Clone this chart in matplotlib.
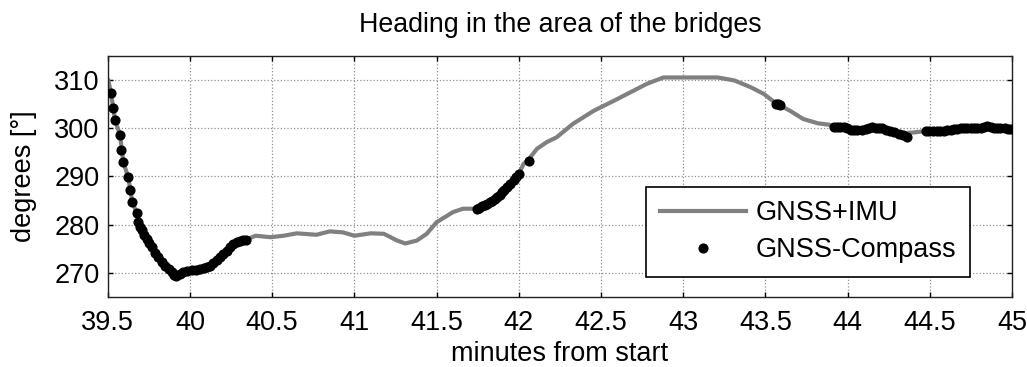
import matplotlib
matplotlib.use("Agg")
import matplotlib.pyplot as plt

plt.rcParams['font.family'] = ['Liberation Sans', 'DejaVu Sans']

# GNSS+IMU heading (minutes, degrees)
imu_t = [39.504, 39.52, 39.545, 39.575, 39.595, 39.625, 39.65, 39.677, 39.707,
         39.737, 39.768, 39.808, 39.849, 39.89, 39.916, 39.96, 40.011, 40.062,
         40.103, 40.143, 40.183, 40.224, 40.264, 40.305, 40.34, 40.40, 40.49,
         40.57, 40.65, 40.77, 40.85, 40.93, 41.00, 41.10, 41.18, 41.26, 41.31,
         41.38, 41.44, 41.50, 41.60, 41.66, 41.73, 41.746, 41.807, 41.868,
         41.928, 41.969, 41.999, 42.03, 42.06, 42.11, 42.17, 42.23, 42.33,
         42.456, 42.58, 42.70, 42.78, 42.88, 43.21, 43.31, 43.41, 43.49, 43.57,
         43.65, 43.73, 43.82, 43.89, 43.916, 43.977, 44.038, 44.089, 44.15,
         44.21, 44.26, 44.31, 44.36, 44.40, 44.45, 44.545, 44.627, 44.708,
         44.789, 44.85, 44.91, 45.0]
imu_h = [309.85, 307.2, 301.6, 298.6, 292.9, 289.8, 284.6, 282.4, 278.8,
         277.0, 275.3, 273.2, 271.5, 270.1, 269.4, 270.1, 270.5, 270.8,
         271.2, 272.0, 273.2, 274.6, 275.9, 276.7, 276.9, 277.7, 277.4,
         277.7, 278.2, 277.9, 278.6, 278.4, 277.7, 278.2, 278.1, 276.7, 276.1,
         276.7, 278.1, 280.5, 282.6, 283.3, 283.3, 283.3, 284.3, 285.7,
         287.7, 289.3, 290.5, 292.6, 293.5, 295.7, 297.1, 298.1, 300.9,
         303.6, 305.7, 307.8, 309.2, 310.5, 310.5, 309.9, 308.5, 307.1, 305.0,
         303.6, 301.9, 301.0, 300.7, 300.3, 300.2, 299.6, 299.6, 300.2,
         300.0, 299.35, 298.8, 299.0, 299.1, 299.3, 299.35, 299.6, 300.0,
         300.0, 300.3, 300.0, 299.9]

# GNSS-Compass heading
cmp_t = [39.52, 39.53, 39.544, 39.575, 39.583, 39.595, 39.625, 39.636, 39.65,
         39.677, 39.686, 39.697, 39.707, 39.72, 39.737, 39.752, 39.768, 39.788,
         39.808, 39.828, 39.849, 39.87, 39.89, 39.905, 39.916, 39.94, 39.96,
         39.985, 40.011, 40.035, 40.062, 40.083, 40.103, 40.123, 40.143, 40.163,
         40.183, 40.203, 40.224, 40.244, 40.264, 40.285, 40.305, 40.322, 40.34,
         41.746, 41.76, 41.777, 41.792, 41.807, 41.822, 41.838, 41.853, 41.868,
         41.883, 41.898, 41.913, 41.928, 41.948, 41.969, 41.984, 41.999, 42.064,
         43.562, 43.575, 43.588,
         43.916, 43.935, 43.955, 43.977, 43.997, 44.018, 44.038, 44.06, 44.089,
         44.11, 44.13, 44.15, 44.17, 44.19, 44.21, 44.235, 44.26, 44.285,
         44.31, 44.335, 44.359,
         44.474, 44.495, 44.52, 44.545, 44.565, 44.585, 44.607, 44.627, 44.647,
         44.668, 44.688, 44.708, 44.728, 44.749, 44.769, 44.789, 44.81, 44.83,
         44.85, 44.87, 44.89, 44.91, 44.93, 44.955, 44.975, 44.995]
cmp_h = [307.2, 304.2, 301.6, 298.6, 295.5, 292.9, 289.8, 287.2, 284.6,
         282.4, 280.5, 279.6, 278.8, 277.9, 277.0, 276.1, 275.3, 274.2,
         273.2, 272.3, 271.5, 270.8, 270.1, 269.6, 269.4, 269.8, 270.1,
         270.3, 270.5, 270.7, 270.8, 271.0, 271.2, 271.5, 272.0, 272.6,
         273.2, 273.9, 274.6, 275.3, 275.9, 276.3, 276.7, 276.8, 276.9,
         283.3, 283.5, 283.8, 284.0, 284.3, 284.6, 285.0, 285.3, 285.7,
         286.2, 286.7, 287.2, 287.7, 288.5, 289.3, 289.9, 290.5, 293.2,
         305.1, 305.0, 304.9,
         300.3, 300.3, 300.2, 300.2, 300.0, 299.7, 299.6, 299.7, 299.6,
         299.9, 300.1, 300.2, 300.1, 300.0, 300.0, 299.7, 299.35, 299.1,
         298.8, 298.5, 298.25,
         299.35, 299.35, 299.35, 299.35, 299.4, 299.5, 299.55, 299.6, 299.8,
         299.9, 300.0, 300.0, 300.0, 300.0, 300.0, 300.0, 300.1, 300.3,
         300.5, 300.2, 300.0, 300.0, 300.0, 300.0, 299.9, 299.9]

x_ticks = [39.5, 40, 40.5, 41, 41.5, 42, 42.5, 43, 43.5, 44, 44.5, 45]
x_labels = ['39.5', '40', '40.5', '41', '41.5', '42', '42.5', '43',
            '43.5', '44', '44.5', '45']
y_ticks = [270, 280, 290, 300, 310]

fig = plt.figure(figsize=(10.27, 3.67), dpi=100)
ax = fig.add_axes([0.1049, 0.1907, 0.8805, 0.6573])

ax.plot(imu_t, imu_h, color='#808080', lw=3.0, label='GNSS+IMU', zorder=2)
ax.plot(cmp_t, cmp_h, 'o', color='black', ms=6.3, label='GNSS-Compass', zorder=3)

ax.set_xlim(39.5, 45)
ax.set_ylim(265, 315)
ax.set_xticks(x_ticks)
ax.set_xticklabels(x_labels)
ax.set_yticks(y_ticks)
ax.tick_params(direction='in', length=3.5, width=1, labelsize=19.5,
               top=True, right=True)
ax.tick_params(axis='x', pad=9)
ax.tick_params(axis='y', pad=6)
ax.grid(True, color='#909090', linestyle=':', linewidth=0.9)
for s in ax.spines.values():
    s.set_linewidth(1)
    s.set_color('#222222')

ax.set_title('Heading in the area of the bridges', fontsize=19.3, pad=17)
ax.set_xlabel('minutes from start', fontsize=19.5, labelpad=4)
ax.set_ylabel('degrees [°]', fontsize=19.5, labelpad=12)

leg = ax.legend(loc='lower right', bbox_to_anchor=(0.9535, 0.084),
                fontsize=19.5, frameon=True, fancybox=False, framealpha=1,
                edgecolor='black', handlelength=3.2, handletextpad=0.35,
                borderpad=0.5, labelspacing=0.4, borderaxespad=0)
leg.get_frame().set_linewidth(1.2)

fig.savefig('out.png', dpi=100)
